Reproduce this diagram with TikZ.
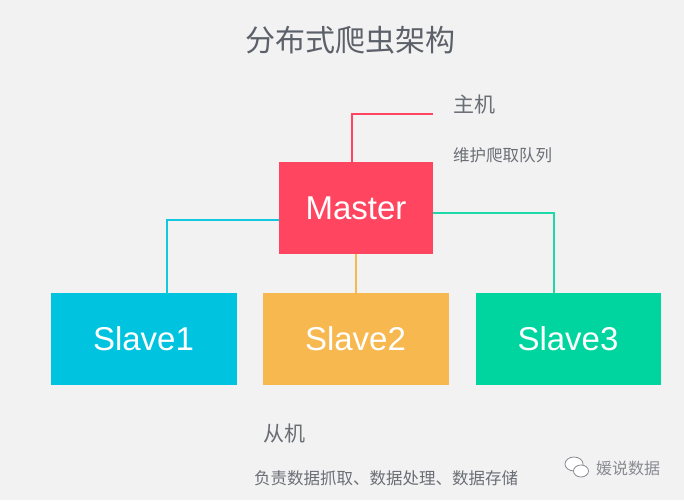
\documentclass[tikz,border=0pt]{standalone}
\usepackage{fontspec}
\setmainfont{Liberation Sans}
\newfontfamily\cjk{Noto Sans CJK SC}
\definecolor{bg}{HTML}{F3F2F3}
\definecolor{mred}{HTML}{FF4560}
\definecolor{scyan}{HTML}{00C3DF}
\definecolor{sorange}{HTML}{F7B84F}
\definecolor{sgreen}{HTML}{00D5A0}
\definecolor{lcyan}{HTML}{12C8DE}
\definecolor{lgreen}{HTML}{1ED8A8}
\definecolor{lorange}{HTML}{F5B94F}
\definecolor{tgrey}{HTML}{5B6069}
\definecolor{bgrey}{HTML}{6A6E75}
\begin{document}
\begin{tikzpicture}[x=1pt,y=-1pt,
  box/.style={draw=none,minimum width=#1,inner sep=0pt,text=white,font=\fontsize{33}{33}\selectfont},
  conn/.style={line width=2pt},
  lbl/.style={anchor=west,inner sep=0pt,text=bgrey}]
\fill[bg] (0,0) rectangle (684,500);
\useasboundingbox (0,0) rectangle (684,500);
\node[inner sep=0pt,text=tgrey,font=\cjk\fontsize{30}{30}\selectfont] (title) at (350,40) {分布式爬虫架构};
% boxes
\node[box=154pt,minimum height=92pt,fill=mred] (master) at (356,208) {Master};
\node[box=186pt,minimum height=92pt,fill=scyan] (s1) at (143.5,339) {Slave1};
\node[box=186pt,minimum height=92pt,fill=sorange] (s2) at (355.5,339) {Slave2};
\node[box=185pt,minimum height=92pt,fill=sgreen] (s3) at (568,339) {Slave3};
% labels
\node[lbl,font=\cjk\fontsize{21}{21}\selectfont] (zhuji) at (453,105) {主机};
\node[lbl,font=\cjk\fontsize{16.5}{16.5}\selectfont] (zhujid) at (453,155) {维护爬取队列};
\node[lbl,font=\cjk\fontsize{21}{21}\selectfont] (congji) at (263,434) {从机};
\node[lbl,font=\cjk\fontsize{16.5}{16.5}\selectfont] (congjid) at (254,478) {负责数据抓取、数据处理、数据存储};
% connectors
\coordinate (mtop) at (352,162);
\coordinate (rend) at (433,114);
\draw[conn,mred] (mtop) |- (rend);
\draw[conn,lcyan] (master.west |- 0,220) -| (s1.north -| 166.5,0);
\draw[conn,lorange] (master.south -| 356,0) -- (s2.north -| 356,0);
\draw[conn,lgreen] (master.east |- 0,213) -| (s3.north -| 554,0);
% watermark
\node[lbl,text=bgrey!80,font=\cjk\fontsize{16}{16}\selectfont] (wm) at (596,468) {媛说数据};
\draw[bgrey!80,line width=0.8pt,fill=white] (574,464) ellipse (9pt and 7pt);
\draw[bgrey!80,line width=0.8pt,fill=white] (581,471) ellipse (7.5pt and 6pt);
\end{tikzpicture}
\end{document}
